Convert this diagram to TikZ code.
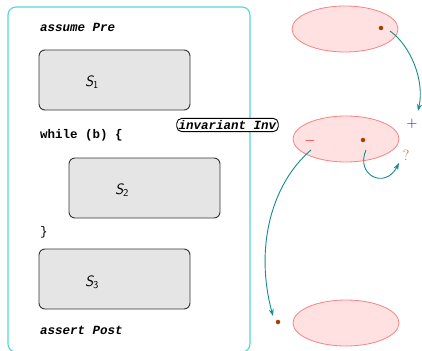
\documentclass[tikz,border=0pt]{standalone}
\usepackage{fontspec}
\setmonofont{Liberation Mono}
\usetikzlibrary{arrows.meta,shapes.geometric}
\definecolor{flow}{RGB}{20,140,140}
\definecolor{frame}{RGB}{80,215,215}
\definecolor{dotc}{RGB}{170,60,0}
\definecolor{setfill}{RGB}{255,225,225}
\definecolor{setdraw}{RGB}{250,130,130}
\tikzset{
  code/.style={font=\fontsize{12.5}{14}\selectfont\ttfamily\bfseries, anchor=west, inner sep=0pt},
  stmt/.style={draw=black!80, line width=0.9pt, fill=black!10, rounded corners=6pt, minimum width=151pt, minimum height=60pt},
  stmtlabel/.style={font=\fontsize{15}{17}\selectfont\sffamily\itshape},
  stateset/.style={ellipse, draw=setdraw, line width=0.8pt, fill=setfill, minimum width=106pt, minimum height=46pt, inner sep=0pt},
  pt/.style={circle, fill=dotc, inner sep=0pt, minimum size=4.5pt},
  trans/.style={draw=flow, line width=0.9pt, -{Stealth[open, length=7pt, width=5pt]}},
  signlabel/.style={font=\fontsize{15}{17}\selectfont},
}
\begin{document}
\begin{tikzpicture}[x=1pt, y=-1pt]
\useasboundingbox (0,0) rectangle (422,350);
% program frame
\draw[frame, line width=1.1pt, rounded corners=8pt] (8,7) rectangle (250,352);
\node[code] (pre) at (40,27) {\itshape assume Pre};
\node[stmt] (s1) at (114.5,80) {};
\node[stmtlabel] (l1) at (92,82) {S\textsubscript{\upshape 1}};
\node[code] (wh) at (40,135) {while (b) \{};
\node[stmt] (s2) at (144.5,188) {};
\node[stmtlabel] (l2) at (122,190) {S\textsubscript{\upshape 2}};
\node[code] (cl) at (40,232) {\mdseries\}};
\node[stmt] (s3) at (114.5,279) {};
\node[stmtlabel] (l3) at (92,282) {S\textsubscript{\upshape 3}};
\node[code] (post) at (40,330) {\itshape assert Post};
\node[draw, line width=0.9pt, fill=white, rounded corners=5pt, inner sep=2pt, font=\fontsize{12.5}{14}\selectfont\ttfamily\bfseries\itshape] (inv) at (227.5,125) {invariant Inv};
% state sets
\node[stateset] (e1) at (345,29) {};
\node[stateset] (e2) at (346,139) {};
\node[stateset] (e3) at (346,323) {};
\node[pt] (d1) at (381,28) {};
\node[pt] (d2) at (363,140) {};
\node[pt] (d3) at (278,322) {};
\node[signlabel, text=blue] (plus) at (412,124) {+};
\node[signlabel, text=red] (minus) at (310,141) {$-$};
\node[signlabel, text=dotc!80] (q) at (406,155) {?};
\coordinate (p1) at (418,111);
% transitions
\draw[trans] (390,31) .. controls (410,45) and (425,80) .. (p1);
\draw[trans] (366,150) .. controls (355,175) and (385,190) .. (399,163);
\draw[trans] (311,150) .. controls (270,185) and (255,250) .. (273,316);
\end{tikzpicture}
\end{document}
